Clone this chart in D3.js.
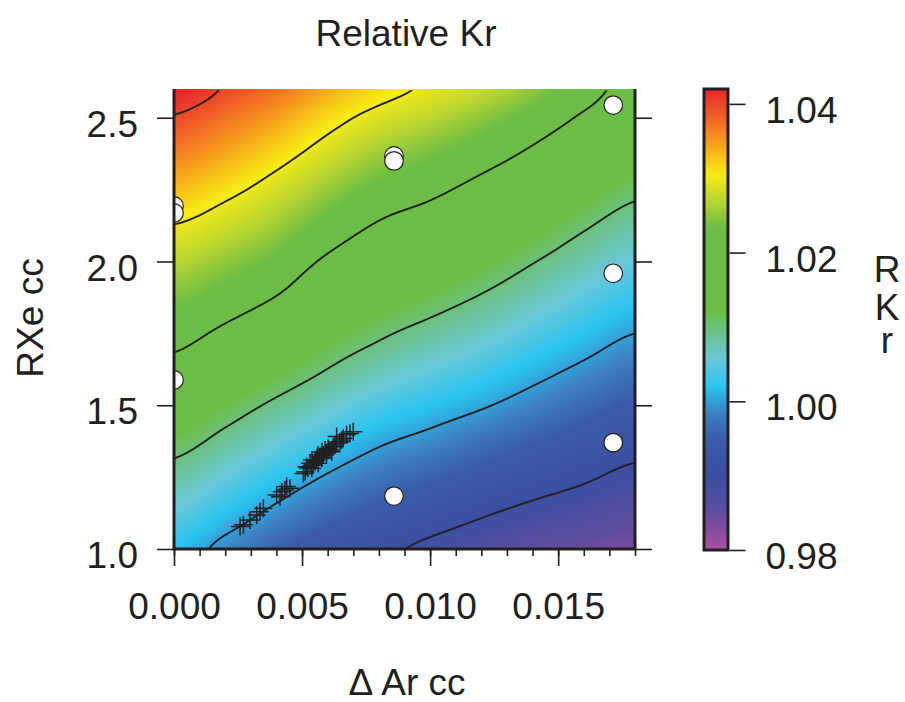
<!DOCTYPE html>
<html>
<head>
<meta charset="utf-8">
<script src="https://cdn.jsdelivr.net/npm/d3@7"></script>
<style>
  body { margin: 0; background: #fff; }
  svg { display: block; font-family: "Liberation Sans", Arial, sans-serif; }
</style>
</head>
<body>
<svg id="chart" width="905" height="702"></svg>
<script>
// grid of Relative Kr: columns = Delta Ar cc, rows = RXe cc (bottom to top)
const xGrid = [0, 0.002, 0.004, 0.006, 0.008, 0.010, 0.012, 0.014, 0.016, 0.018];
const yGrid = [1.0, 1.1, 1.2, 1.3, 1.4, 1.5, 1.6, 1.7, 1.8, 1.9, 2.0, 2.1, 2.2, 2.3, 2.4, 2.5, 2.6];
const rkrGrid = [
  [1.0020, 0.9989, 0.9957, 0.9929, 0.9910, 0.9891, 0.9872, 0.9856, 0.9846, 0.9834],
  [1.0045, 1.0015, 0.9984, 0.9956, 0.9935, 0.9917, 0.9898, 0.9882, 0.9870, 0.9856],
  [1.0071, 1.0041, 1.0011, 0.9983, 0.9961, 0.9943, 0.9925, 0.9908, 0.9894, 0.9878],
  [1.0096, 1.0067, 1.0038, 1.0010, 0.9986, 0.9969, 0.9951, 0.9933, 0.9917, 0.9900],
  [1.0123, 1.0094, 1.0065, 1.0038, 1.0012, 0.9995, 0.9977, 0.9959, 0.9941, 0.9922],
  [1.0150, 1.0121, 1.0092, 1.0065, 1.0039, 1.0021, 1.0004, 0.9984, 0.9964, 0.9945],
  [1.0178, 1.0149, 1.0121, 1.0093, 1.0067, 1.0047, 1.0029, 1.0008, 0.9987, 0.9967],
  [1.0204, 1.0177, 1.0149, 1.0118, 1.0094, 1.0073, 1.0054, 1.0032, 1.0010, 0.9989],
  [1.0226, 1.0204, 1.0178, 1.0143, 1.0118, 1.0099, 1.0079, 1.0055, 1.0032, 1.0011],
  [1.0248, 1.0228, 1.0205, 1.0168, 1.0142, 1.0123, 1.0103, 1.0079, 1.0054, 1.0033],
  [1.0270, 1.0251, 1.0228, 1.0193, 1.0166, 1.0148, 1.0127, 1.0102, 1.0077, 1.0054],
  [1.0293, 1.0275, 1.0251, 1.0218, 1.0190, 1.0172, 1.0151, 1.0126, 1.0099, 1.0076],
  [1.0318, 1.0298, 1.0273, 1.0242, 1.0214, 1.0197, 1.0175, 1.0150, 1.0122, 1.0098],
  [1.0344, 1.0323, 1.0296, 1.0266, 1.0239, 1.0221, 1.0199, 1.0175, 1.0146, 1.0119],
  [1.0371, 1.0348, 1.0321, 1.0290, 1.0263, 1.0245, 1.0224, 1.0199, 1.0170, 1.0140],
  [1.0397, 1.0373, 1.0346, 1.0314, 1.0288, 1.0270, 1.0249, 1.0224, 1.0194, 1.0161],
  [1.0424, 1.0397, 1.0372, 1.0339, 1.0313, 1.0294, 1.0275, 1.0249, 1.0218, 1.0182]
];
const contourLevels = [0.99, 1.00, 1.01, 1.02, 1.03, 1.04];

// white circles
const wellX = [0, 0, 0, 0.00859, 0.00859, 0.00859, 0.01715, 0.01715, 0.01715];
const wellY = [2.193, 2.169, 1.588, 2.367, 2.350, 1.184, 2.544, 1.959, 1.370];

// crosses
const crossX = [0.00258, 0.00271, 0.00297, 0.00323, 0.00336, 0.00349, 0.00401, 0.00414, 0.00421, 0.00433,
  0.00440, 0.00453, 0.00505, 0.00512, 0.00518, 0.00531, 0.00538, 0.00544, 0.00551, 0.00557,
  0.00563, 0.00570, 0.00577, 0.00583, 0.00590, 0.00596, 0.00602, 0.00609, 0.00616, 0.00622,
  0.00629, 0.00635, 0.00648, 0.00655, 0.00661, 0.00674, 0.00687, 0.00700, 0.00635, 0.00562,
  0.00578, 0.00539, 0.00523];
const crossY = [1.078, 1.084, 1.101, 1.118, 1.130, 1.142, 1.188, 1.182, 1.199, 1.205,
  1.217, 1.211, 1.263, 1.269, 1.286, 1.298, 1.281, 1.292, 1.304, 1.310,
  1.298, 1.321, 1.316, 1.327, 1.344, 1.333, 1.350, 1.344, 1.338, 1.356,
  1.362, 1.368, 1.373, 1.379, 1.385, 1.397, 1.402, 1.408, 1.391, 1.327,
  1.337, 1.310, 1.282];

// axis ticks
const xTicks = [0, 0.005, 0.010, 0.015];
const xMinorTicks = d3.range(0, 19).map(d => d / 1000);
const yTicks = [1.0, 1.5, 2.0, 2.5];
const barTicks = [0.98, 1.00, 1.02, 1.04];

// colour ramp
const colorDomain = [0.980, 0.985, 0.990, 0.995, 0.9985, 1.002, 1.0055, 1.0086, 1.0122, 1.0234, 1.0267, 1.0305, 1.0355, 1.0387, 1.042];
const colorRange = ['#b04e9e', '#604c9f', '#3b4fa1', '#3a5ba9', '#3d83c4', '#29c4f1', '#68c8db', '#6cc39b',
  '#6cbd45', '#6cbd45', '#b6d433', '#f8ec15', '#f7901e', '#f05a28', '#e8262a'];

const SVG = d3.select('#chart');
const INK = '#231f20';
const LEFT = 174, RIGHT = 635, TOP = 89, BOTTOM = 549;
const W = RIGHT - LEFT, H = BOTTOM - TOP;

const X_SCALE = d3.scaleLinear().domain([0, 0.018]).range([LEFT, RIGHT]);
const Y_SCALE = d3.scaleLinear().domain([1.0, 2.6]).range([BOTTOM, TOP]);
const COLOR = d3.scaleLinear().domain(colorDomain).range(colorRange).clamp(true);
const BAR_SCALE = d3.scaleLinear().domain([0.98, 1.042]).range([550, 89]);

// smooth (Catmull-Rom) lookup between the read grid nodes
function cubic(p0, p1, p2, p3, t) {
  return p1 + 0.5 * t * (p2 - p0 + t * (2 * p0 - 5 * p1 + 4 * p2 - p3 + t * (3 * (p1 - p2) + p3 - p0)));
}
function node(j, i) {
  const jj = Math.max(0, Math.min(yGrid.length - 1, j));
  const ii = Math.max(0, Math.min(xGrid.length - 1, i));
  return rkrGrid[jj][ii];
}
function rkrAt(x, y) {
  const fx = (x - xGrid[0]) / (xGrid[1] - xGrid[0]);
  const fy = (y - yGrid[0]) / (yGrid[1] - yGrid[0]);
  const i = Math.max(0, Math.min(xGrid.length - 2, Math.floor(fx)));
  const j = Math.max(0, Math.min(yGrid.length - 2, Math.floor(fy)));
  const tx = fx - i, ty = fy - j;
  const rows = [-1, 0, 1, 2].map(dj =>
    cubic(node(j + dj, i - 1), node(j + dj, i), node(j + dj, i + 1), node(j + dj, i + 2), tx));
  return cubic(rows[0], rows[1], rows[2], rows[3], ty);
}

// sample the field once per pixel of the plot
const values = new Array(W * H);
for (let j = 0; j < H; j++) {
  for (let i = 0; i < W; i++) {
    values[j * W + i] = rkrAt(X_SCALE.invert(LEFT + i + 0.5), Y_SCALE.invert(TOP + j + 0.5));
  }
}

const canvas = document.createElement('canvas');
canvas.width = W;
canvas.height = H;
const ctx = canvas.getContext('2d');
const img = ctx.createImageData(W, H);
values.forEach((v, k) => {
  const c = d3.rgb(COLOR(v));
  img.data[k * 4] = c.r;
  img.data[k * 4 + 1] = c.g;
  img.data[k * 4 + 2] = c.b;
  img.data[k * 4 + 3] = 255;
});
ctx.putImageData(img, 0, 0);

const defs = SVG.append('defs');
defs.append('clipPath').attr('id', 'plotClip')
  .append('rect').attr('x', LEFT).attr('y', TOP).attr('width', W).attr('height', H);
defs.append('clipPath').attr('id', 'lineClip')
  .append('rect').attr('x', LEFT + 1).attr('y', TOP + 1.2).attr('width', W - 2).attr('height', H - 2.2);

SVG.append('image')
  .attr('x', LEFT).attr('y', TOP)
  .attr('width', W).attr('height', H)
  .attr('href', canvas.toDataURL());

// contour lines
const contours = d3.contours().size([W, H]).thresholds(contourLevels)(values);
const toPlot = d3.geoTransform({
  point(x, y) { this.stream.point(LEFT + x, TOP + y); }
});
SVG.append('g')
  .attr('clip-path', 'url(#lineClip)')
  .selectAll('path')
  .data(contours)
  .join('path')
  .attr('d', d3.geoPath(toPlot))
  .style('fill', 'none')
  .style('stroke', INK)
  .style('stroke-width', 1.9);

// crosses
SVG.append('g')
  .selectAll('path')
  .data(crossX.map((x, i) => ({ x, y: crossY[i] })))
  .join('path')
  .attr('d', d => {
    const px = X_SCALE(d.x), py = Y_SCALE(d.y), s = 9;
    return `M${px - s},${py}H${px + s}M${px},${py - s}V${py + s}`;
  })
  .style('stroke', INK)
  .style('stroke-width', 1.5)
  .style('fill', 'none');

// circles
SVG.append('g')
  .attr('clip-path', 'url(#plotClip)')
  .selectAll('circle')
  .data(wellX.map((x, i) => ({ x, y: wellY[i] })))
  .join('circle')
  .attr('cx', d => X_SCALE(d.x))
  .attr('cy', d => Y_SCALE(d.y))
  .attr('r', 9.3)
  .style('fill', '#fff')
  .style('stroke', INK)
  .style('stroke-width', 1.2);

function styleAxis(g) {
  g.select('.domain').remove();
  g.selectAll('line').style('stroke', INK).style('stroke-width', 1.6);
  g.selectAll('text').style('font-size', '37px').style('fill', INK)
    .style('font-family', '"Liberation Sans", Arial, sans-serif');
}

// x axis: minor and major ticks
SVG.append('g')
  .attr('transform', `translate(0,${BOTTOM})`)
  .call(d3.axisBottom(X_SCALE).tickValues(xMinorTicks).tickSize(7).tickFormat(''))
  .call(styleAxis);
SVG.append('g')
  .attr('transform', `translate(0,${BOTTOM})`)
  .call(d3.axisBottom(X_SCALE).tickValues(xTicks).tickSize(17).tickPadding(27).tickFormat(d3.format('.3f')))
  .call(styleAxis);

// y axis left and right
SVG.append('g')
  .attr('transform', `translate(${LEFT},0)`)
  .call(d3.axisLeft(Y_SCALE).tickValues(yTicks).tickSize(17).tickPadding(19).tickFormat(d3.format('.1f')))
  .call(styleAxis)
  .call(g => g.selectAll('text').attr('dy', '0.5em'));
SVG.append('g')
  .attr('transform', `translate(${RIGHT},0)`)
  .call(d3.axisRight(Y_SCALE).tickValues(yTicks).tickSize(17).tickFormat(''))
  .call(styleAxis);

// frame
SVG.append('path')
  .attr('d', `M${LEFT},${TOP}V${BOTTOM}H${RIGHT}V${TOP}`)
  .style('fill', 'none')
  .style('stroke', INK)
  .style('stroke-width', 3);

// colour bar
const grad = defs.append('linearGradient')
  .attr('id', 'barGrad')
  .attr('x1', 0).attr('y1', 1).attr('x2', 0).attr('y2', 0);
grad.selectAll('stop')
  .data(colorDomain)
  .join('stop')
  .attr('offset', d => (d - 0.98) / (1.042 - 0.98))
  .attr('stop-color', d => COLOR(d));

SVG.append('rect')
  .attr('x', 704).attr('y', BAR_SCALE(1.042))
  .attr('width', 24).attr('height', BAR_SCALE(0.98) - BAR_SCALE(1.042))
  .style('fill', 'url(#barGrad)')
  .style('stroke', INK)
  .style('stroke-width', 3);

SVG.append('g')
  .attr('transform', 'translate(729.5,0)')
  .call(d3.axisRight(BAR_SCALE).tickValues(barTicks).tickSize(16).tickPadding(20).tickFormat(d3.format('.2f')))
  .call(styleAxis)
  .call(g => g.selectAll('text').attr('dy', '0.5em'));

// titles
const textStyle = sel => sel.style('font-size', '37px').style('fill', INK);

SVG.append('text').text('Relative Kr')
  .attr('x', 406).attr('y', 46).attr('text-anchor', 'middle').call(textStyle);

SVG.append('text').text('\u0394 Ar cc')
  .attr('x', 407).attr('y', 695).attr('text-anchor', 'middle').call(textStyle);

SVG.append('text').text('RXe cc')
  .attr('transform', 'translate(43,318) rotate(-90)')
  .attr('text-anchor', 'middle').call(textStyle);

// colour bar title, stacked letters in one text
const barTitle = ['R', 'K', 'r'];
const barTitleDy = [0, 38, 33];
SVG.append('text')
  .attr('x', 887).attr('y', 282)
  .attr('text-anchor', 'middle')
  .call(textStyle)
  .selectAll('tspan')
  .data(barTitle)
  .join('tspan')
  .attr('x', 887)
  .attr('dy', (d, i) => barTitleDy[i])
  .text(d => d);
</script>
</body>
</html>
